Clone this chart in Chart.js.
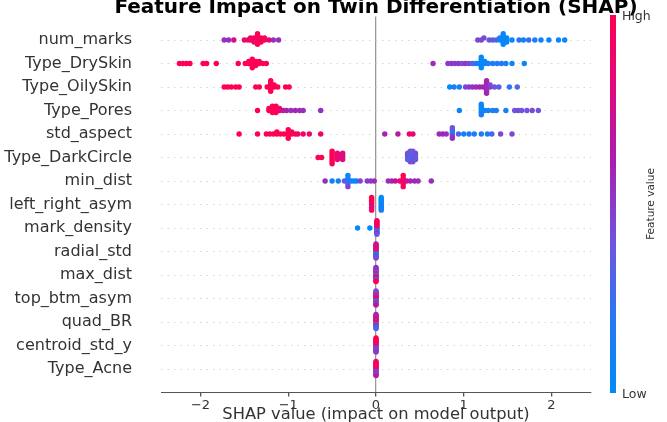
<!DOCTYPE html>
<html><head><meta charset="utf-8">
<script src="https://cdn.jsdelivr.net/npm/chart.js@4.4.0/dist/chart.umd.min.js"></script>
<style>html,body{margin:0;padding:0;background:#fff;}#wrap{width:667px;height:422px;position:relative;}</style>
</head><body><div id="wrap"><canvas id="c"></canvas></div>
<script>
// ---- DATA (top-to-bottom feature order) ----
const features = ['num_marks','Type_DrySkin','Type_OilySkin','Type_Pores','std_aspect','Type_DarkCircle','min_dist','left_right_asym','mark_density','radial_std','max_dist','top_btm_asym','quad_BR','centroid_std_y','Type_Acne'];
const xTicks = [-2,-1,0,1,2];
const titleText = 'Feature Impact on Twin Differentiation (SHAP)';
const xLabel = 'SHAP value (impact on model output)';
const cbLabels = ['Low','High','Feature value'];

// SHAP values and feature values (0 = low, 1 = high) per feature
const num_marks_shap = [-1.73,-1.68,-1.62,-1.50,-1.46,-1.43,-1.43,-1.39,-1.39,-1.39,-1.35,-1.35,-1.35,-1.35,-1.35,-1.35,-1.31,-1.31,-1.31,-1.27,-1.27,-1.22,-1.17,-1.11,
  1.16,1.20,1.23,1.29,1.33,1.37,1.41,1.41,1.45,1.45,1.45,1.45,1.45,1.45,1.49,1.49,1.49,1.55,1.63,1.68,1.74,1.81,1.88,1.97,2.08,2.15];
const num_marks_fv = [.55,.55,.75,.85,.95,1,.9,1,1,.85,1,1,.9,1,1,1,1,.9,1,1,.95,.85,.55,.55,
  .45,.45,.45,.4,.35,.3,.2,.1,0,0,.05,0,0,.1,.1,0,.05,.05,.2,.1,.25,.1,.1,.05,.05,.05];

const Type_DrySkin_shap = [-2.24,-2.20,-2.16,-2.12,-1.97,-1.93,-1.82,-1.57,-1.49,-1.45,-1.45,-1.41,-1.41,-1.41,-1.41,-1.41,-1.37,-1.37,-1.37,-1.33,-1.33,-1.29,-1.25,
  0.65,0.82,0.86,0.90,0.94,0.98,1.02,1.06,1.10,1.14,1.17,1.20,1.20,1.20,1.20,1.20,1.20,1.24,1.24,1.28,1.33,1.38,1.43,1.48,1.55,1.69];
const Type_DrySkin_fv = [1,1,1,1,1,1,1,1,1,1,.95,1,1,1,1,1,1,1,1,1,.95,1,.95,
  .55,.5,.5,.5,.5,.45,.5,.45,.3,.2,.1,0,.05,0,.1,0,0,.1,.05,.1,.15,.1,.2,.1,.1,.05];

const Type_OilySkin_shap = [-1.73,-1.69,-1.65,-1.60,-1.56,-1.37,-1.33,-1.24,-1.20,-1.20,-1.20,-1.20,-1.20,-1.20,-1.16,-1.16,-1.12,-1.03,-0.99,
  0.84,0.89,0.95,1.02,1.06,1.10,1.14,1.18,1.22,1.26,1.26,1.26,1.26,1.26,1.26,1.26,1.30,1.30,1.35,1.40,1.52,1.61];
const Type_OilySkin_fv = [1,1,1,1,1,1,1,1,1,1,1,1,1,1,1,1,1,1,1,
  0,.15,.1,.45,.5,.55,.55,.6,.6,.6,.55,.6,.65,.55,.6,.6,.5,.45,.4,.35,.2,.3];

const Type_Pores_shap = [-1.35,-1.22,-1.22,-1.18,-1.18,-1.18,-1.18,-1.14,-1.14,-1.14,-1.14,-1.10,-1.10,-1.06,-1.02,-0.97,-0.92,-0.87,-0.83,-0.63,
  0.95,1.20,1.20,1.20,1.20,1.20,1.20,1.24,1.28,1.33,1.37,1.48,1.58,1.62,1.66,1.72,1.78,1.85];
const Type_Pores_fv = [1,1,1,1,1,1,1,1,1,1,1,1,.9,.7,.6,.55,.6,.55,.55,.55,
  .05,.1,0,.05,0,.15,.1,.05,.1,.1,.15,.1,.4,.45,.4,.4,.45,.4];

const std_aspect_shap = [-1.56,-1.35,-1.25,-1.21,-1.17,-1.13,-1.13,-1.09,-1.05,-1.00,-1.00,-1.00,-1.00,-1.00,-0.96,-0.96,-0.92,-0.89,-0.83,-0.76,-0.63,
  0.10,0.25,0.38,0.42,0.72,0.76,0.80,0.87,0.87,0.87,0.87,0.87,0.87,0.94,1.00,1.06,1.12,1.20,1.27,1.32,1.42,1.55];
const std_aspect_fv = [1,1,1,1,1,1,1,1,1,1,1,1,1,1,1,1,.95,.95,.9,.9,.9,
  .6,.65,.9,.85,.55,.6,.55,.3,.1,.5,.2,.55,.4,.3,.1,.15,.1,.2,.1,.3,.45,.45];

const Type_DarkCircle_shap = [-0.66,-0.62,-0.50,-0.50,-0.50,-0.50,-0.50,-0.50,-0.50,-0.44,-0.44,-0.44,-0.44,-0.38,-0.38,-0.38,-0.38,
  0.36,0.36,0.36,0.36,0.39,0.39,0.39,0.39,0.39,0.39,0.42,0.42,0.42,0.42,0.42,0.42,0.45,0.45,0.45,0.45];
const Type_DarkCircle_fv = [1,1,1,1,1,1,1,1,1,.85,.85,.85,.85,.8,.8,.8,.8,
  .42,.4,.38,.42,.42,.38,.1,.42,.4,.38,.42,.15,.4,.38,.42,.4,.42,.38,.4,.42];

const min_dist_shap = [-0.58,-0.50,-0.43,-0.36,-0.32,-0.32,-0.32,-0.32,-0.32,-0.28,-0.25,-0.22,-0.18,-0.10,-0.06,-0.02,
  0.14,0.18,0.22,0.27,0.31,0.31,0.31,0.31,0.31,0.35,0.39,0.44,0.48,0.63];
const min_dist_fv = [.55,.05,.1,.35,.4,.1,.3,.05,.45,.1,0,.05,.45,.5,.5,.55,
  .55,.6,.7,.85,1,1,.9,1,.95,.75,.6,.6,.55,.55];

const left_right_asym_shap = [-0.05,-0.05,-0.05,-0.05,-0.05,-0.05,-0.05,-0.05,-0.05,-0.05,0.06,0.06,0.06,0.06,0.06,0.06,0.06,0.06,0.06,0.06];
const left_right_asym_fv = [1,.8,.9,1,.75,1,.85,1,.9,1,0,.05,.1,0,.15,0,.05,0,.1,0];

const mark_density_shap = [-0.21,-0.07,0.01,0.01,0.01,0.01,0.01,0.01,0.01,0.01,0.01,0.01,0.01,0.01,0.01,0.01];
const mark_density_fv = [0,0,1,.6,.1,.9,.5,1,.3,.8,.05,1,.6,.9,.4,1];

const radial_std_shap = [0,0,0,0,0,0,0,0,0,0,0,0,0,0,0,0];
const radial_std_fv = [1,.5,.1,.9,.4,1,.2,.6,.05,1,.5,.8,.3,1,.45,.7];
const max_dist_shap = [0,0,0,0,0,0,0,0,0,0,0,0,0,0,0,0];
const max_dist_fv = [.5,1,.4,.1,.9,.5,1,.3,.6,1,.05,.5,.8,.4,1,.55];
const top_btm_asym_shap = [0,0,0,0,0,0,0,0,0,0,0,0,0,0,0,0];
const top_btm_asym_fv = [1,.6,.2,1,.5,.9,.4,1,.1,.6,1,.5,.3,1,.7,.45];
const quad_BR_shap = [0,0,0,0,0,0,0,0,0,0,0,0,0,0,0,0];
const quad_BR_fv = [.5,.05,1,.6,.4,1,.2,.8,1,.5,.1,.9,.45,1,.3,.6];
const centroid_std_y_shap = [0,0,0,0,0,0,0,0,0,0,0,0,0,0,0,0];
const centroid_std_y_fv = [1,.5,.4,1,.6,.9,.45,1,.5,.8,.4,1,.55,.9,.5,1];
const Type_Acne_shap = [0,0,0,0,0,0,0,0,0,0,0,0,0,0,0,0];
const Type_Acne_fv = [.5,1,.4,.9,.6,1,.45,.8,.5,1,.55,.9,.4,1,.7,.95];

const seriesShap = [num_marks_shap,Type_DrySkin_shap,Type_OilySkin_shap,Type_Pores_shap,std_aspect_shap,Type_DarkCircle_shap,min_dist_shap,left_right_asym_shap,mark_density_shap,radial_std_shap,max_dist_shap,top_btm_asym_shap,quad_BR_shap,centroid_std_y_shap,Type_Acne_shap];
const seriesFv = [num_marks_fv,Type_DrySkin_fv,Type_OilySkin_fv,Type_Pores_fv,std_aspect_fv,Type_DarkCircle_fv,min_dist_fv,left_right_asym_fv,mark_density_fv,radial_std_fv,max_dist_fv,top_btm_asym_fv,quad_BR_fv,centroid_std_y_fv,Type_Acne_fv];

// ---- colour map (SHAP red_blue) ----
const stops = [[0,[0,139,251]],[0.2,[40,118,243]],[0.38,[105,88,225]],[0.5,[138,58,200]],[0.62,[170,30,172]],[0.8,[222,10,128]],[1,[255,0,82]]];
function cmap(t){
  t=Math.max(0,Math.min(1,t));
  for(let i=1;i<stops.length;i++){
    if(t<=stops[i][0]){
      const a=stops[i-1],b=stops[i],f=(t-a[0])/(b[0]-a[0]);
      const c=a[1].map((v,k)=>Math.round(v+(b[1][k]-v)*f));
      return `rgb(${c[0]},${c[1]},${c[2]})`;
    }
  }
  return 'rgb(255,0,82)';
}

// ---- beeswarm layout (as in shap.summary_plot) ----
function swarm(vals){
  const N=vals.length, nbins=100;
  const mn=Math.min(...vals), mx=Math.max(...vals);
  const quant=vals.map(v=>Math.round(nbins*(v-mn)/(mx-mn+1e-8)));
  const inds=vals.map((_,i)=>i).sort((a,b)=>quant[a]-quant[b]||a-b);
  const ys=new Array(N).fill(0);
  let layer=0,last=-1;
  for(const ind of inds){
    if(quant[ind]!==last) layer=0;
    ys[ind]=Math.ceil(layer/2)*((layer%2)*2-1);
    layer++; last=quant[ind];
  }
  const m=Math.max(...ys.map(y=>y+1));
  return ys.map(y=>y*0.9*(0.4/m));
}

const nF=features.length;
const datasets=features.map((f,i)=>{
  const pos=nF-1-i;
  const off=swarm(seriesShap[i]);
  return {
    label:f,
    data:seriesShap[i].map((v,k)=>({x:v,y:pos+off[k]})),
    pointBackgroundColor:seriesFv[i].map(cmap),
    pointBorderWidth:0,
    pointRadius:2.7,
    showLine:false
  };
});

const FONT='"DejaVu Sans", sans-serif';
const extras={
  id:'extras',
  afterDraw(chart){
    const ctx=chart.ctx, ca=chart.chartArea;
    ctx.save();
    // title
    ctx.fillStyle='#000';
    ctx.font='bold 20px '+FONT;
    ctx.textAlign='center'; ctx.textBaseline='alphabetic';
    ctx.fillText(titleText,(ca.left+ca.right)/2,13);
    // colour bar
    const x0=610,w=6,top=15,bot=393;
    const g=ctx.createLinearGradient(0,bot,0,top);
    stops.forEach(s=>g.addColorStop(s[0],`rgb(${s[1].join(',')})`));
    ctx.fillStyle=g; ctx.fillRect(x0,top,w,bot-top);
    ctx.fillStyle='#333';
    ctx.font='12.5px '+FONT;
    ctx.textAlign='left'; ctx.textBaseline='middle';
    ctx.fillText(cbLabels[1],x0+w+6,top+2);
    ctx.fillText(cbLabels[0],x0+w+6,bot+2);
    ctx.translate(651,(top+bot)/2);
    ctx.rotate(-Math.PI/2);
    ctx.textAlign='center';
    ctx.font='10.5px '+FONT;
    ctx.fillText(cbLabels[2],0,0);
    ctx.restore();
  }
};

new Chart(document.getElementById('c'),{
  type:'scatter',
  data:{datasets},
  options:{
    responsive:true, maintainAspectRatio:false, animation:false, events:[],
    layout:{padding:{top:16.5,right:76,left:0,bottom:0}},
    plugins:{legend:{display:false},tooltip:{enabled:false},title:{display:false}},
    scales:{
      x:{
        type:'linear', min:-2.45, max:2.45,
        afterBuildTicks:s=>{s.ticks=xTicks.map(v=>({value:v}));},
        afterFit:s=>{s.height=29.5;},
        ticks:{color:'#333',font:{family:FONT,size:13},padding:1,
          callback:v=>v<0?'\u2212'+Math.abs(v):String(v)},
        grid:{drawOnChartArea:true,color:c=>c.tick&&c.tick.value===0?'#999999':'rgba(0,0,0,0)',
          lineWidth:1.3,tickColor:'#555',tickLength:4,drawTicks:true},
        border:{display:true,color:'#555',width:1},
        title:{display:true,text:xLabel,color:'#333',font:{family:FONT,size:16.3},padding:{top:0,bottom:-2.8}}
      },
      y:{
        type:'linear', min:-1, max:15,
        afterBuildTicks:s=>{s.ticks=features.map((f,i)=>({value:i}));},
        afterFit:s=>{s.width=161;},
        ticks:{color:'#333',font:{family:FONT,size:16},padding:0,autoSkip:false,
          callback:v=>features[nF-1-v]},
        grid:{color:'#cccccc',lineWidth:0.8,drawTicks:true,tickLength:29,tickColor:'rgba(0,0,0,0)'},
        border:{display:false,dash:[1.5,5]}
      }
    }
  },
  plugins:[extras]
});
</script></body></html>
